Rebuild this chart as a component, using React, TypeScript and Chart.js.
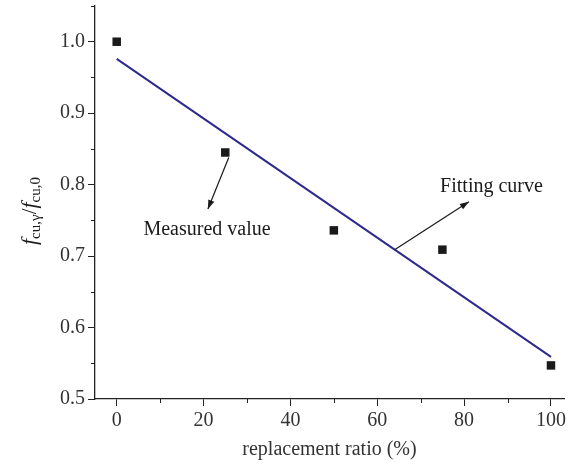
import React, { useEffect, useRef } from "react";
import { Chart, registerables } from "chart.js";

Chart.register(...registerables);

const replacementRatio = [0, 25, 50, 75, 100];
const measuredValue = [1.0, 0.845, 0.736, 0.709, 0.547];
const fitX = [0, 100];
const fitY = [0.976, 0.559];
const xTickValues = [0, 20, 40, 60, 80, 100];
const yTickValues = [0.5, 0.6, 0.7, 0.8, 0.9, 1.0];
const xMinorValues = [10, 30, 50, 70, 90];
const yMinorValues = [0.55, 0.65, 0.75, 0.85, 0.95, 1.05];

const SERIF = "'Liberation Serif', 'DejaVu Serif', serif";

const overlayPlugin = {
  id: "overlay",
  afterDraw(chart: any) {
    const ctx = chart.ctx as CanvasRenderingContext2D;
    const xs = chart.scales.x;
    const ys = chart.scales.y;
    const area = chart.chartArea;
    ctx.save();
    // minor ticks
    ctx.strokeStyle = "#222";
    ctx.lineWidth = 1;
    ctx.beginPath();
    for (const v of xMinorValues) {
      const px = Math.round(xs.getPixelForValue(v)) + 0.5;
      ctx.moveTo(px, area.bottom);
      ctx.lineTo(px, area.bottom + 4);
    }
    for (const v of yMinorValues) {
      const py = Math.round(ys.getPixelForValue(v)) + 0.5;
      ctx.moveTo(area.left, py);
      ctx.lineTo(area.left - 4, py);
    }
    ctx.stroke();

    // arrows
    const arrow = (x1: number, y1: number, x2: number, y2: number) => {
      const a = xs.getPixelForValue(x1), b = ys.getPixelForValue(y1);
      const c = xs.getPixelForValue(x2), d = ys.getPixelForValue(y2);
      ctx.strokeStyle = "#1a1a1a";
      ctx.fillStyle = "#1a1a1a";
      ctx.lineWidth = 1.2;
      ctx.beginPath();
      ctx.moveTo(a, b);
      ctx.lineTo(c, d);
      ctx.stroke();
      const ang = Math.atan2(d - b, c - a);
      const L = 9, W = 3.2;
      ctx.beginPath();
      ctx.moveTo(c, d);
      ctx.lineTo(c - L * Math.cos(ang) + W * Math.sin(ang), d - L * Math.sin(ang) - W * Math.cos(ang));
      ctx.lineTo(c - L * Math.cos(ang) - W * Math.sin(ang), d - L * Math.sin(ang) + W * Math.cos(ang));
      ctx.closePath();
      ctx.fill();
    };
    arrow(25.8, 0.838, 21.0, 0.766);
    arrow(64.0, 0.709, 81.1, 0.776);

    ctx.fillStyle = "#1a1a1a";
    ctx.font = `20px ${SERIF}`;
    ctx.textAlign = "center";
    ctx.textBaseline = "middle";
    ctx.fillText("Measured value", xs.getPixelForValue(20.8), ys.getPixelForValue(0.737));
    ctx.fillText("Fitting curve", xs.getPixelForValue(86.3), ys.getPixelForValue(0.797));

    // y title
    ctx.translate(30, 211);
    ctx.rotate(-Math.PI / 2);
    const parts: [string, string, number][] = [
      ["f", `italic 22px ${SERIF}`, 0],
      ["cu,γ", `15px ${SERIF}`, 4],
      ["/", `21px ${SERIF}`, 0],
      ["f", `italic 22px ${SERIF}`, 0],
      ["cu,0", `15px ${SERIF}`, 4],
    ];
    let total = 0;
    for (const [t, f] of parts) {
      ctx.font = f;
      total += ctx.measureText(t).width;
    }
    let x = -total / 2;
    ctx.textAlign = "left";
    ctx.textBaseline = "alphabetic";
    for (const [t, f, dy] of parts) {
      ctx.font = f;
      ctx.fillText(t, x, 6 + dy);
      x += ctx.measureText(t).width;
    }
    ctx.restore();
  },
};

export default function App() {
  const ref = useRef<HTMLCanvasElement>(null);
  useEffect(() => {
    const canvas = ref.current!;
    const chart = new Chart(canvas, {
      type: "scatter",
      data: {
        datasets: [
          {
            label: "Fitting curve",
            type: "line",
            data: fitX.map((x, i) => ({ x, y: fitY[i] })),
            borderColor: "#2e2a8e",
            borderWidth: 2,
            pointRadius: 0,
            fill: false,
            order: 2,
          } as any,
          {
            label: "Measured value",
            data: replacementRatio.map((x, i) => ({ x, y: measuredValue[i] })),
            pointStyle: "rect",
            pointRadius: 6,
            backgroundColor: "#1a1a1a",
            borderColor: "#1a1a1a",
            borderWidth: 0,
            order: 1,
          },
        ],
      },
      options: {
        animation: false,
        responsive: false,
        layout: { padding: { top: 6, right: 2, left: 0, bottom: 0 } },
        plugins: { legend: { display: false }, tooltip: { enabled: false } },
        scales: {
          x: {
            type: "linear",
            min: -5,
            max: 103,
            afterBuildTicks: (s: any) => {
              s.ticks = xTickValues.map((v) => ({ value: v }));
            },
            afterFit: (s: any) => {
              s.height = 71;
              s.paddingLeft = 0;
              s.paddingRight = 0;
            },
            grid: { drawOnChartArea: false, tickLength: 7, color: "#222" },
            border: { color: "#222", width: 1.3 },
            ticks: { color: "#333", font: { family: SERIF, size: 20 }, padding: 3 },
            title: {
              display: true,
              text: "replacement ratio (%)",
              color: "#333",
              font: { family: SERIF, size: 20 },
              padding: { top: 0, bottom: 8 },
            },
          },
          y: {
            type: "linear",
            min: 0.5,
            max: 1.05,
            afterBuildTicks: (s: any) => {
              s.ticks = yTickValues.map((v) => ({ value: v }));
            },
            afterFit: (s: any) => {
              s.width = 95;
              s.paddingTop = 0;
              s.paddingBottom = 0;
            },
            grid: { drawOnChartArea: false, tickLength: 7, color: "#222" },
            border: { color: "#222", width: 1.3 },
            ticks: {
              color: "#333",
              font: { family: SERIF, size: 20 },
              padding: 3,
              callback: (v: any) => Number(v).toFixed(1),
            },
          },
        },
      },
      plugins: [overlayPlugin],
    });
    return () => chart.destroy();
  }, []);
  return (
    <div style={{ position: "absolute", left: 0, top: 0, width: 570, height: 470, background: "#fff" }}>
      <canvas ref={ref} width={570} height={470} style={{ width: 570, height: 470 }} />
    </div>
  );
}
